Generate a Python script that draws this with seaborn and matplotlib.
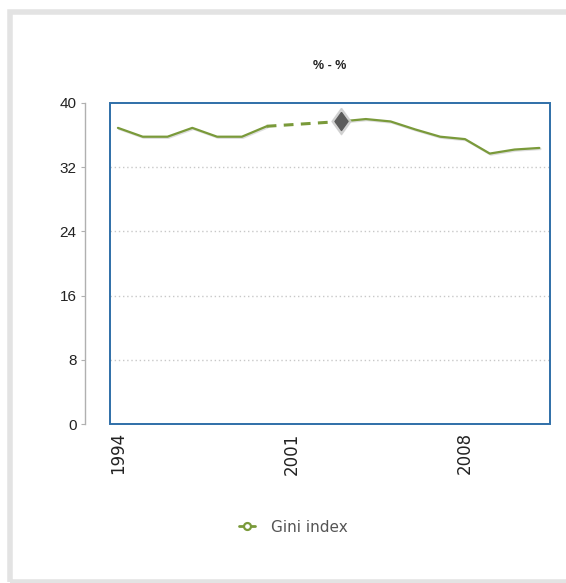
import numpy as np
import pandas as pd
import matplotlib
matplotlib.use("Agg")
import matplotlib.pyplot as plt
import matplotlib.patheffects as pe
from matplotlib.lines import Line2D
from matplotlib.patches import Rectangle
import seaborn as sns

# Gini index by year (2001 and 2002 have no observation)
years_a = [1994, 1995, 1996, 1997, 1998, 1999, 2000]
gini_a = [36.9, 35.8, 35.8, 36.9, 35.8, 35.8, 37.1]
years_b = [2003, 2004, 2005, 2006, 2007, 2008, 2009, 2010, 2011]
gini_b = [37.7, 38.0, 37.7, 36.7, 35.8, 35.5, 33.7, 34.2, 34.4]
highlight_year = 2003
x_ticks = [1994, 2001, 2008]
y_ticks = [0, 8, 16, 24, 32, 40]
series_name = "Gini index"
title = "% - %"

LINE = "#7a9a3a"
BOX = "#2f6fa8"

sns.set_style("white")
plt.rcParams["font.family"] = ["Liberation Sans", "DejaVu Sans"]

W, H = 566, 583
fig = plt.figure(figsize=(W / 100, H / 100), dpi=100)
fig.patch.set_facecolor("white")

# light grey frame around the panel
fig.patches.append(Rectangle((9.5 / W, 1 / H), 1.0, (H - 11.5 - 1) / H,
                             transform=fig.transFigure, fill=False,
                             edgecolor="#e3e3e3", linewidth=4.0, zorder=0))

ax = fig.add_axes([110 / W, (H - 424) / H, 440 / W, 321 / H])

seg_a = pd.DataFrame({"year": years_a, "gini": gini_a})
seg_b = pd.DataFrame({"year": years_b, "gini": gini_b})
gap = pd.DataFrame({"year": [years_a[-1], years_b[0]],
                    "gini": [gini_a[-1], gini_b[0]]})

shadow = [pe.SimpleLineShadow(offset=(0.8, -0.8), alpha=0.18, shadow_color="#444"),
          pe.Normal()]
for seg in (seg_a, seg_b):
    sns.lineplot(data=seg, x="year", y="gini", ax=ax, color=LINE,
                 linewidth=1.6, path_effects=shadow, legend=False)
sns.lineplot(data=gap, x="year", y="gini", ax=ax, color=LINE,
             linewidth=2.2, linestyle=(0, (3.2, 2.4)), legend=False)

# highlighted point: diamond with a soft halo
diamond = [(0, 1), (0.72, 0), (0, -1), (-0.72, 0), (0, 1)]
hv = gini_b[years_b.index(highlight_year)]
ax.plot([highlight_year], [hv], marker=diamond, markersize=19, color="#cdcdcd",
        alpha=0.85, zorder=5)
ax.plot([highlight_year], [hv], marker=diamond, markersize=13, color="#5c5c5c",
        zorder=6)

ax.set_xlim(1993.68, 2011.43)
ax.set_ylim(0, 40)
ax.set_xlabel("")
ax.set_ylabel("")

# dotted horizontal grid
for v in y_ticks[1:-1]:
    ax.axhline(v, color="#c8c8c8", linewidth=1.0, linestyle=(0, (1, 2)), zorder=0)

# blue plot box
ax.add_patch(Rectangle((0, 0), 1, 1, transform=ax.transAxes, fill=False,
                       edgecolor=BOX, linewidth=1.4, clip_on=False, zorder=7))

for s in ("top", "right", "bottom"):
    ax.spines[s].set_visible(False)
ax.spines["left"].set_position(("outward", 18))
ax.spines["left"].set_color("#b0b0b0")
ax.spines["left"].set_linewidth(1.0)

ax.set_yticks(y_ticks)
ax.set_yticklabels([str(v) for v in y_ticks])
ax.tick_params(axis="y", direction="out", length=3, width=0.8, color="#b0b0b0",
               pad=3, labelsize=11, labelcolor="#222222", left=True)
ax.set_xticks(x_ticks)
ax.set_xticklabels([str(v) for v in x_ticks], rotation=90,
                   family="DejaVu Sans", fontsize=12)
ax.tick_params(axis="x", length=0, pad=6, labelcolor="#222222")

fig.text(330 / W, 1 - 66 / H, title, ha="center", va="center",
         fontsize=9, fontweight="bold", color="#222222")

handle = Line2D([], [], color=LINE, linewidth=2, marker="o", markersize=5,
                markerfacecolor="white", markeredgecolor=LINE, markeredgewidth=1.6)
leg = ax.legend([handle], [series_name], loc="center left",
                bbox_to_anchor=(231 / W, 1 - 527 / H),
                bbox_transform=fig.transFigure, frameon=False, borderpad=0,
                handlelength=1.1, handletextpad=1.0,
                prop={"family": "DejaVu Sans", "size": 11})
for t in leg.get_texts():
    t.set_color("#555555")

fig.savefig("out.png", dpi=100)
